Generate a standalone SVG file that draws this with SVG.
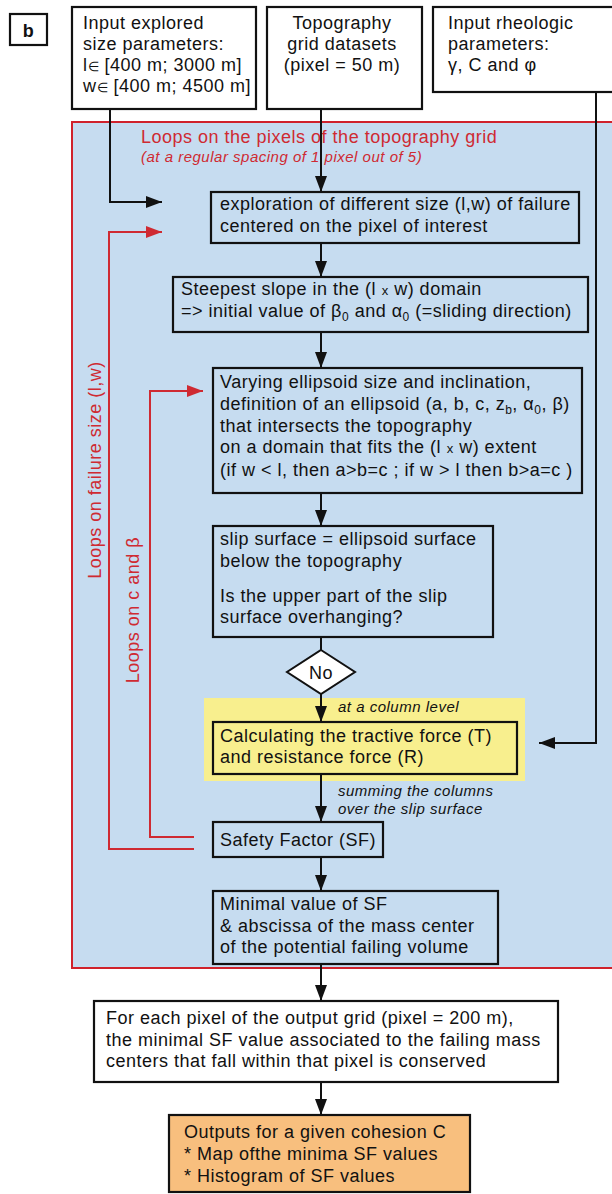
<svg xmlns="http://www.w3.org/2000/svg" width="612" height="1194" viewBox="0 0 612 1194">
<defs>
<style>
text { font-family: "Liberation Sans", Arial, sans-serif; font-size: 18px; letter-spacing: 0.5px; fill: #111; }
.box { fill: none; stroke: #111; stroke-width: 2.2; }
.wbox { fill: #fff; stroke: #111; stroke-width: 2.2; }
.rt { fill: #cf2a32; }
.it { font-style: italic; font-size: 15px; }
.sub { font-size: 12px; }
.sm { font-size: 13px; }
.conn { fill: none; stroke: #111; stroke-width: 2; }
.rconn { fill: none; stroke: #cf2a32; stroke-width: 2; }
</style>
<marker id="ab" markerUnits="userSpaceOnUse" markerWidth="16" markerHeight="12" refX="16" refY="6" orient="auto"><path d="M0,0 L16,6 L0,12 z" fill="#111"/></marker>
<marker id="ar" markerUnits="userSpaceOnUse" markerWidth="16" markerHeight="12" refX="16" refY="6" orient="auto"><path d="M0,0 L16,6 L0,12 z" fill="#cf2a32"/></marker>
</defs>
<rect x="0" y="0" width="612" height="1194" fill="#fff"/>

<g id="loop-region">
<rect x="72" y="122" width="560" height="846" fill="#c6dcf0" stroke="#d0222c" stroke-width="2"/>
<text class="rt" x="141" y="143">Loops on the pixels of the topography grid</text>
<text class="rt it" x="141" y="162">(at a regular spacing of 1 pixel out of 5)</text>
<text class="rt" transform="translate(101,470) rotate(-90)" text-anchor="middle">Loops on failure size (l,w)</text>
<text class="rt" transform="translate(139,610) rotate(-90)" text-anchor="middle">Loops on c and β</text>
</g>

<g id="label-b">
<rect class="wbox" x="10" y="14" width="37" height="31"/>
<text x="28.5" y="37" text-anchor="middle" font-weight="bold">b</text>
</g>

<g id="input-size">
<rect class="wbox" x="72" y="7" width="184" height="102"/>
<text x="83" y="29">Input explored</text>
<text x="83" y="50">size parameters:</text>
<text x="83" y="71">l<tspan class="sm">∈</tspan> [400 m; 3000 m]</text>
<text x="83" y="92">w<tspan class="sm">∈</tspan> [400 m; 4500 m]</text>
</g>

<g id="input-topo">
<rect class="wbox" x="267" y="7" width="155" height="102"/>
<text x="342" y="29" text-anchor="middle">Topography</text>
<text x="342" y="50" text-anchor="middle">grid datasets</text>
<text x="342" y="71" text-anchor="middle">(pixel = 50 m)</text>
</g>

<g id="input-rheo">
<rect class="wbox" x="433" y="7" width="190" height="85"/>
<text x="448" y="29">Input rheologic</text>
<text x="448" y="50">parameters:</text>
<text x="448" y="71">γ, C and φ</text>
</g>

<g id="exploration">
<rect class="box" x="211" y="192" width="368" height="51"/>
<text x="220" y="210">exploration of different size (l,w) of failure</text>
<text x="220" y="232">centered on the pixel of interest</text>
</g>

<g id="steepest">
<rect class="box" x="173" y="277" width="415" height="55"/>
<text x="181" y="295">Steepest slope in the (l <tspan class="sm">x</tspan> w) domain</text>
<text x="181" y="317">=&gt; initial value of β<tspan class="sub" dy="4">0</tspan><tspan dy="-4"> and α</tspan><tspan class="sub" dy="4">0</tspan><tspan dy="-4"> (=sliding direction)</tspan></text>
</g>

<g id="ellipsoid">
<rect class="box" x="213" y="368" width="369" height="125"/>
<text x="220" y="388">Varying ellipsoid size and inclination,</text>
<text x="220" y="410">definition of an ellipsoid (a, b, c, z<tspan class="sub" dy="4">b</tspan><tspan dy="-4">, α</tspan><tspan class="sub" dy="4">0</tspan><tspan dy="-4">, β)</tspan></text>
<text x="220" y="432">that intersects the topography</text>
<text x="220" y="453">on a domain that fits the (l <tspan class="sm">x</tspan> w) extent</text>
<text x="220" y="476">(if w &lt; l, then a&gt;b=c ; if w &gt; l then b&gt;a=c )</text>
</g>

<g id="slip">
<rect class="box" x="213" y="526" width="280" height="111"/>
<text x="220" y="545">slip surface = ellipsoid surface</text>
<text x="220" y="567">below the topography</text>
<text x="220" y="602">Is the upper part of the slip</text>
<text x="220" y="623">surface overhanging?</text>
</g>

<g id="decision">
<polygon points="321,650 355,672 321,694 287,672" fill="#fff" stroke="#111" stroke-width="2"/>
<text x="321" y="679" text-anchor="middle">No</text>
</g>

<g id="forces">
<rect x="204" y="698" width="321" height="83" fill="#f8ef8e"/>
<text class="it" x="338" y="712">at a column level</text>
<rect class="box" x="213" y="722" width="304" height="52"/>
<text x="220" y="742">Calculating the tractive force (T)</text>
<text x="220" y="763">and resistance force (R)</text>
</g>

<g id="sum-note">
<text class="it" x="338" y="796">summing the columns</text>
<text class="it" x="338" y="814">over the slip surface</text>
</g>

<g id="safety">
<rect class="box" x="213" y="822" width="170" height="35"/>
<text x="220" y="846">Safety Factor (SF)</text>
</g>

<g id="minimal">
<rect class="box" x="213" y="891" width="285" height="73"/>
<text x="220" y="910">Minimal value of SF</text>
<text x="220" y="932">&amp; abscissa of the mass center</text>
<text x="220" y="953">of the potential failing volume</text>
</g>

<g id="output-grid">
<rect class="wbox" x="94" y="1001" width="464" height="81"/>
<text x="106" y="1024">For each pixel of the output grid (pixel = 200 m),</text>
<text x="106" y="1046">the minimal SF value associated to the failing mass</text>
<text x="106" y="1067">centers that fall within that pixel is conserved</text>
</g>

<g id="outputs">
<rect x="169" y="1115" width="301" height="77" fill="#f8bf7e" stroke="#111" stroke-width="2.2"/>
<text x="184" y="1138">Outputs for a given cohesion C</text>
<text x="184" y="1160">* Map ofthe minima SF values</text>
<text x="184" y="1182">* Histogram of SF values</text>
</g>

<g id="connectors">
<path class="conn" d="M110,109 V202 H162" marker-end="url(#ab)"/>
<path class="conn" d="M321,109 V192" marker-end="url(#ab)"/>
<path class="conn" d="M596,92 V743 H539" marker-end="url(#ab)"/>
<path class="conn" d="M321,243 V277" marker-end="url(#ab)"/>
<path class="conn" d="M321,332 V368" marker-end="url(#ab)"/>
<path class="conn" d="M321,493 V526" marker-end="url(#ab)"/>
<path class="conn" d="M321,637 V650"/>
<path class="conn" d="M321,694 V722" marker-end="url(#ab)"/>
<path class="conn" d="M321,774 V822" marker-end="url(#ab)"/>
<path class="conn" d="M321,857 V891" marker-end="url(#ab)"/>
<path class="conn" d="M321,964 V1001" marker-end="url(#ab)"/>
<path class="conn" d="M321,1082 V1115" marker-end="url(#ab)"/>
<path class="rconn" d="M194,849 H109 V232 H162" marker-end="url(#ar)"/>
<path class="rconn" d="M194,837 H150 V391 H203" marker-end="url(#ar)"/>
</g>
</svg>
